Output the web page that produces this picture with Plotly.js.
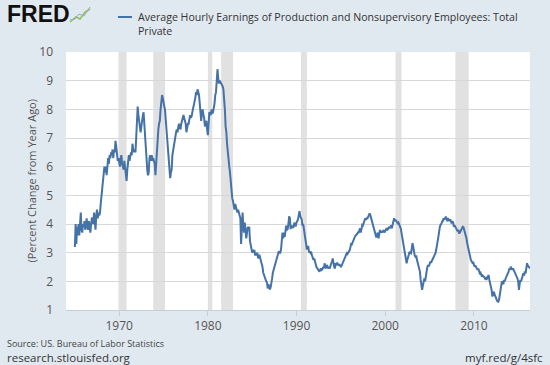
<!DOCTYPE html>
<html><head><meta charset="utf-8">
<script src="https://cdn.plot.ly/plotly-3.0.1.min.js"></script>
<style>html,body{margin:0;padding:0;background:#e1e9f0;}#chart{width:550px;height:365px;}</style>
</head><body><div id="chart"></div>
<script>
// Monthly values, percent change from year ago, starting 1965-01
const startYear = 1965;
const values = [
/*1965*/ 3.2,4.0,3.3,3.9,3.6,4.0,3.6,3.9,4.4,3.8,3.7,4.0,
/*1966*/ 3.9,4.1,3.8,3.9,4.2,3.9,3.8,4.1,3.9,3.7,4.0,4.2,
/*1967*/ 4.2,4.0,4.4,4.1,3.8,4.3,4.5,4.2,4.4,4.3,4.4,4.7,
/*1968*/ 5.0,5.3,5.6,5.9,6.0,5.8,6.0,5.7,6.2,6.3,6.1,6.4,
/*1969*/ 6.3,6.5,6.4,6.6,6.3,6.6,6.5,6.9,6.7,6.5,6.2,6.3,
/*1970*/ 6.1,6.0,6.3,6.4,6.1,6.0,5.9,6.2,6.0,5.8,5.5,5.9,
/*1971*/ 6.3,6.4,6.2,6.4,6.5,6.4,6.8,6.6,6.5,6.6,6.5,7.0,
/*1972*/ 8.0,8.1,7.8,7.6,7.3,7.2,7.4,7.7,7.8,7.9,7.4,7.0,
/*1973*/ 6.6,6.2,5.9,5.7,5.8,6.3,6.4,6.2,6.4,6.2,6.3,6.2,
/*1974*/ 6.1,5.7,6.2,6.5,7.0,7.3,7.5,7.6,8.0,8.3,8.5,8.4,
/*1975*/ 8.3,8.1,8.0,7.6,7.3,6.8,6.5,6.3,5.9,5.6,5.8,5.9,
/*1976*/ 6.4,6.6,6.7,6.9,7.0,7.2,7.3,7.2,7.4,7.5,7.4,7.3,
/*1977*/ 7.5,7.6,7.7,7.8,7.7,7.6,7.5,7.2,7.4,7.5,7.5,7.7,
/*1978*/ 7.8,7.7,7.75,7.9,8.0,8.2,8.3,8.4,8.6,8.5,8.7,8.6,
/*1979*/ 8.5,8.2,7.9,7.6,7.9,8.0,7.8,7.7,7.4,7.5,7.6,7.3,
/*1980*/ 7.1,7.5,7.9,7.85,7.8,8.0,7.85,7.9,8.0,8.2,8.5,8.6,
/*1981*/ 9.0,9.4,9.1,8.9,9.0,8.95,8.9,8.9,8.8,8.7,8.4,8.0,
/*1982*/ 7.4,7.2,6.8,6.4,6.2,6.0,5.8,5.4,5.0,4.9,4.8,4.6,
/*1983*/ 4.5,4.7,4.6,4.5,4.4,4.5,4.4,4.3,4.2,3.3,4.1,4.4,
/*1984*/ 3.9,3.7,4.05,3.8,3.5,3.7,3.9,3.8,3.9,3.4,3.2,3.1,
/*1985*/ 3.0,3.1,3.0,3.1,2.9,3.0,2.9,3.0,2.8,2.9,2.9,2.8,
/*1986*/ 2.7,2.65,2.5,2.3,2.2,2.1,2.07,2.0,1.96,1.75,1.9,1.84,
/*1987*/ 1.72,1.8,2.07,2.1,2.3,2.4,2.53,2.6,2.7,2.76,2.9,3.0,
/*1988*/ 3.05,3.0,3.0,3.1,3.34,3.7,3.5,3.7,3.55,3.7,3.94,3.8,
/*1989*/ 3.82,4.0,4.27,4.2,3.82,3.94,3.9,3.88,3.9,4.05,3.95,3.94,
/*1990*/ 4.05,4.1,4.16,4.3,4.45,4.27,4.2,4.16,3.94,4.0,3.82,3.7,
/*1991*/ 3.46,3.3,3.11,3.2,3.22,3.0,3.05,2.98,3.0,2.9,2.8,2.75,
/*1992*/ 2.8,2.63,2.6,2.5,2.45,2.42,2.4,2.34,2.4,2.45,2.4,2.42,
/*1993*/ 2.5,2.45,2.63,2.5,2.45,2.57,2.5,2.45,2.5,2.45,2.55,2.6,
/*1994*/ 2.7,2.8,2.6,2.5,2.45,2.63,2.6,2.65,2.6,2.55,2.6,2.57,
/*1995*/ 2.5,2.55,2.6,2.63,2.7,2.74,2.85,2.92,2.98,2.95,3.0,3.0,
/*1996*/ 3.09,3.2,3.33,3.3,3.38,3.44,3.5,3.56,3.6,3.62,3.65,3.7,
/*1997*/ 3.7,3.78,3.85,3.7,3.8,3.97,3.95,4.1,4.12,4.2,4.15,4.2,
/*1998*/ 4.2,4.26,4.3,4.37,4.3,4.2,4.14,3.97,3.9,3.79,3.7,3.67,
/*1999*/ 3.53,3.6,3.7,3.5,3.6,3.79,3.7,3.75,3.7,3.75,3.79,3.7,
/*2000*/ 3.75,3.8,3.85,3.8,3.82,3.9,3.85,3.9,3.95,3.85,4.0,4.02,
/*2001*/ 4.2,4.1,4.15,4.1,4.05,4.02,4.05,4.0,3.95,3.85,3.7,3.55,
/*2002*/ 3.44,3.3,3.21,3.0,2.92,2.63,2.75,2.86,2.95,3.03,3.0,2.98,
/*2003*/ 3.15,3.33,3.2,3.0,2.9,2.86,2.9,2.75,2.63,2.5,2.4,2.34,
/*2004*/ 2.05,1.9,1.7,1.85,2.0,2.1,2.0,2.2,2.4,2.5,2.57,2.52,
/*2005*/ 2.6,2.69,2.65,2.7,2.74,2.8,2.86,2.9,2.98,3.1,3.21,3.4,
/*2006*/ 3.56,3.79,3.9,3.97,4.0,4.08,4.1,4.2,4.15,4.2,4.26,4.2,
/*2007*/ 4.1,4.2,4.15,4.1,4.16,4.1,4.02,4.1,4.05,3.9,3.95,3.9,
/*2008*/ 3.85,3.79,3.75,3.8,3.67,3.7,3.75,3.85,3.88,3.9,3.88,3.8,
/*2009*/ 3.7,3.62,3.5,3.33,3.2,3.03,2.9,2.8,2.74,2.7,2.65,2.68,
/*2010*/ 2.6,2.51,2.55,2.5,2.45,2.4,2.45,2.35,2.28,2.3,2.25,2.16,
/*2011*/ 2.2,2.18,2.15,2.1,2.12,2.05,2.1,2.15,2.22,2.05,1.93,1.85,
/*2012*/ 1.7,1.47,1.6,1.64,1.55,1.45,1.4,1.35,1.3,1.29,1.35,1.5,
/*2013*/ 1.7,1.85,2.0,1.95,1.9,2.05,2.0,2.1,2.15,2.2,2.28,2.34,
/*2014*/ 2.45,2.4,2.51,2.45,2.4,2.45,2.4,2.35,2.3,2.22,2.2,2.1,
/*2015*/ 2.0,1.7,1.9,2.05,2.0,2.1,2.15,2.28,2.2,2.35,2.28,2.4,
/*2016*/ 2.63,2.55,2.5,2.5,2.45
];
const recessionStart = ['1969-12-01','1973-11-01','1980-01-01','1981-07-01','1990-07-01','2001-03-01','2007-12-01'];
const recessionEnd   = ['1970-11-01','1975-03-01','1980-07-01','1982-11-01','1991-03-01','2001-11-01','2009-06-01'];
const yTicks = [1,2,3,4,5,6,7,8,9,10];
const xTickYears = [1970,1980,1990,2000,2010];

const dates = values.map((v,i)=>{
  const y = startYear + Math.floor(i/12);
  const m = (i%12)+1;
  return y + '-' + String(m).padStart(2,'0') + '-01';
});

const px = x => (x-66)/464;
const py = y => (310-y)/258;

const shapes = recessionStart.map((s,i)=>({
  type:'rect', xref:'x', yref:'paper', x0:s, x1:recessionEnd[i], y0:0, y1:1,
  fillcolor:'#e1e1e1', line:{width:0}, layer:'below'
}));
// legend swatch
shapes.push({type:'line', xref:'paper', yref:'paper', x0:px(118), x1:px(132),
  y0:py(17), y1:py(17), line:{color:'#4572a7', width:2}});
// small logo graph icon
shapes.push({type:'path', xref:'paper', yref:'paper',
  path:'M '+px(70)+' '+py(22)+' L '+px(76)+' '+py(17)+' L '+px(80)+' '+py(19)+' L '+px(85)+' '+py(12)+' L '+px(90)+' '+py(9),
  line:{color:'#8fbf5a', width:1.5}});
shapes.push({type:'path', xref:'paper', yref:'paper',
  path:'M '+px(70)+' '+py(20)+' L '+px(75)+' '+py(19)+' L '+px(79)+' '+py(14)+' L '+px(84)+' '+py(16)+' L '+px(90)+' '+py(7),
  line:{color:'#9aa9b8', width:1}});

const annotations = [
  {text:'<b>FRED</b>', x:px(5), y:py(14), xref:'paper', yref:'paper', xanchor:'left', yanchor:'middle',
   showarrow:false, font:{family:'Liberation Sans, Arial', size:23, color:'#111'}},
  {text:'Average Hourly Earnings of Production and Nonsupervisory Employees: Total<br>Private',
   x:px(136), y:py(8), xref:'paper', yref:'paper', xanchor:'left', yanchor:'top', align:'left',
   showarrow:false, font:{family:'Open Sans', size:10.6, color:'#333'}},
  {text:'(Percent Change from Year Ago)', x:px(21), y:py(181), xref:'paper', yref:'paper',
   textangle:-90, showarrow:false, font:{family:'Open Sans', size:11, color:'#555'}},
  {text:'Source: US. Bureau of Labor Statistics', x:px(5), y:py(343), xref:'paper', yref:'paper',
   xanchor:'left', yanchor:'middle', showarrow:false, font:{family:'Open Sans', size:9, color:'#444'}},
  {text:'research.stlouisfed.org', x:px(5), y:py(358), xref:'paper', yref:'paper',
   xanchor:'left', yanchor:'middle', showarrow:false, font:{family:'Open Sans', size:11.5, color:'#333'}},
  {text:'myf.red/g/4sfc', x:px(545), y:py(358), xref:'paper', yref:'paper',
   xanchor:'right', yanchor:'middle', showarrow:false, font:{family:'Open Sans', size:11.5, color:'#333'}}
];

Plotly.newPlot('chart', [{
  x: dates, y: values, type:'scatter', mode:'lines',
  line:{color:'#4572a7', width:2}, hoverinfo:'skip'
}], {
  width:550, height:365,
  paper_bgcolor:'#e1e9f0', plot_bgcolor:'#ffffff',
  margin:{l:66, r:20, t:52, b:55},
  showlegend:false,
  xaxis:{type:'date', range:['1964-01-01','2016-05-01'],
    tickvals: xTickYears.map(y=>y+'-01-01'), ticktext: xTickYears.map(String),
    showgrid:false, zeroline:false, showline:true, linecolor:'#c0d0e0', linewidth:1,
    ticks:'outside', ticklen:5, tickcolor:'#c0d0e0',
    tickfont:{family:'Open Sans', size:12, color:'#555'}},
  yaxis:{range:[1,10], tickvals:yTicks, showgrid:true, gridcolor:'#d8d8d8', gridwidth:1,
    zeroline:false, showline:false, ticks:'', ticklabelstandoff:12,
    tickfont:{family:'Open Sans', size:12, color:'#555'}},
  shapes: shapes,
  annotations: annotations
}, {staticPlot:true, displayModeBar:false});
</script></body></html>
